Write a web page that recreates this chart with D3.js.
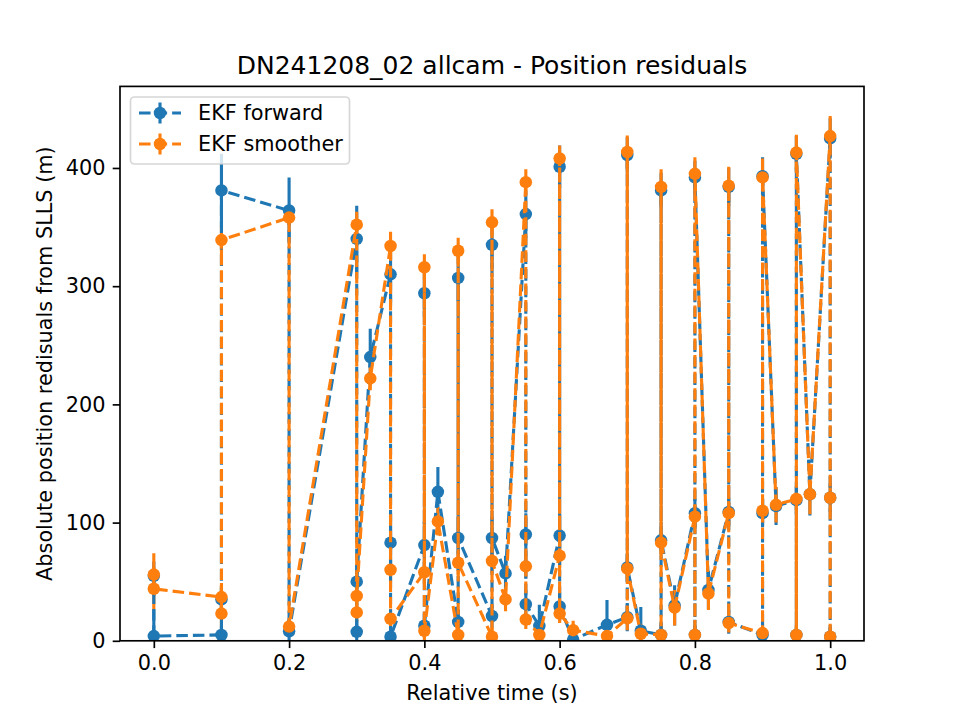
<!DOCTYPE html>
<html>
<head>
<meta charset="utf-8">
<script src="https://cdn.jsdelivr.net/npm/d3@7/dist/d3.min.js"></script>
<style>
  body { margin: 0; background: #fff; }
  text { font-family: "DejaVu Sans", sans-serif; fill: #000; }
</style>
</head>
<body>
<div id="chart"></div>
<script>
// Observation times (relative, s) - same order for both filters
const times = [
    0.0, 0.0, 0.1, 0.1, 0.1, 0.2, 0.2, 0.3, 0.3, 0.3,
    0.32, 0.35, 0.35, 0.35, 0.4, 0.4, 0.4, 0.42, 0.45, 0.45,
    0.45, 0.5, 0.5, 0.5, 0.52, 0.55, 0.55, 0.55, 0.57, 0.6,
    0.6, 0.6, 0.62, 0.67, 0.7, 0.7, 0.7, 0.72, 0.75, 0.75,
    0.75, 0.77, 0.8, 0.8, 0.8, 0.82, 0.85, 0.85, 0.85, 0.9,
    0.9, 0.9, 0.92, 0.95, 0.95, 0.95, 0.97, 1.0, 1.0, 1.0
];
const forwardRes = [
    55, 4, 5, 35, 381, 364, 8, 340, 7.6, 50,
    240, 310, 83, 3.4, 81, 294, 12.7, 126, 16, 307,
    87, 21, 335, 87, 57, 361, 90, 31, 12.5, 89,
    401, 29, 1, 13.5, 20, 411, 62, 8.5, 5, 381,
    85, 30, 108, 5, 392, 43, 109, 384, 16, 5,
    108, 393, 114, 119, 5, 412, 124, 425, 121, 3.5
];
const forwardErr = [
    12, 22, 8, 10, 31, 28, 10, 28, 10, 15,
    24, 24, 25, 10, 20, 20, 10, 21, 10, 20,
    18, 10, 20, 18, 15, 20, 18, 12, 18, 18,
    18, 12, 8, 21, 12, 15, 12, 20, 10, 15,
    12, 17, 12, 8, 14, 16, 12, 16, 10, 8,
    12, 16, 16, 12, 8, 15, 18, 17, 12, 8
];
const smootherRes = [
    56, 44, 37, 23, 339, 358, 12, 352, 24, 38,
    222, 334, 60, 18.6, 58, 316, 8.5, 101, 5, 330,
    66, 3.5, 354, 67.5, 35, 388, 63, 18, 5, 72,
    408, 23, 9, 4, 19, 413.5, 61, 6, 5, 384,
    83, 28, 105, 5, 395, 40, 108, 385, 15, 6.5,
    110, 392, 115, 120, 5, 413, 124, 427, 121, 3.5
];
const smootherErr = [
    18, 18, 12, 12, 12, 6, 6, 11, 8, 8,
    10, 12, 10, 8, 10, 11, 8, 12, 8, 11,
    10, 8, 11, 10, 10, 11, 10, 8, 8, 10,
    11, 8, 8, 6, 10, 14, 10, 8, 8, 15,
    10, 15, 10, 8, 14, 14, 10, 16, 8, 8,
    10, 16, 15, 10, 8, 15, 17, 17, 10, 8
];
const xTicks = [0, 0.2, 0.4, 0.6, 0.8, 1.0];
const yTicks = [0, 100, 200, 300, 400];
const seriesNames = ["EKF forward", "EKF smoother"];
const seriesColors = ["#1f77b4", "#ff7f0e"];

const WIDTH = 960, HEIGHT = 720;
const MARGIN = { left: 120, right: 96, top: 86.4, bottom: 79.2 };
const INNER_W = WIDTH - MARGIN.left - MARGIN.right;
const INNER_H = HEIGHT - MARGIN.top - MARGIN.bottom;
const FONT = 20.83;
const LW = 3.125;
const DASH = "11.56,5";
const MARKER_R = 6.25;
const TICK = 7.3;

const series = [
    { name: seriesNames[0], color: seriesColors[0], vals: forwardRes, errs: forwardErr },
    { name: seriesNames[1], color: seriesColors[1], vals: smootherRes, errs: smootherErr }
].map(s => ({ ...s, points: times.map((t, i) => ({ t, v: s.vals[i], e: s.errs[i] })) }));

const svg = d3.select("#chart").append("svg")
    .attr("width", WIDTH)
    .attr("height", HEIGHT);

svg.append("rect").attr("width", WIDTH).attr("height", HEIGHT).attr("fill", "#fff");

const xScale = d3.scaleLinear().domain([-0.05, 1.05]).range([0, INNER_W]);
const yScale = d3.scaleLinear().domain([0, 469]).range([INNER_H, 0]);

const chart = svg.append("g")
    .attr("transform", `translate(${MARGIN.left}, ${MARGIN.top})`);

chart.append("clipPath").attr("id", "plot-clip")
    .append("rect").attr("width", INNER_W).attr("height", INNER_H);

const plot = chart.append("g").attr("clip-path", "url(#plot-clip)");

// error bars sit under every data line (matplotlib zorder)
series.forEach(s => {
    plot.append("g").selectAll("line")
        .data(s.points)
        .join("line")
        .attr("x1", d => xScale(d.t))
        .attr("x2", d => xScale(d.t))
        .attr("y1", d => yScale(d.v - d.e))
        .attr("y2", d => yScale(d.v + d.e))
        .attr("stroke", s.color)
        .attr("stroke-width", LW);
});

const line = d3.line().x(d => xScale(d.t)).y(d => yScale(d.v));

series.forEach(s => {
    const g = plot.append("g");
    g.append("path")
        .datum(s.points)
        .attr("d", line)
        .attr("fill", "none")
        .attr("stroke", s.color)
        .attr("stroke-width", LW)
        .attr("stroke-dasharray", DASH);
    g.selectAll("circle")
        .data(s.points)
        .join("circle")
        .attr("cx", d => xScale(d.t))
        .attr("cy", d => yScale(d.v))
        .attr("r", MARKER_R)
        .attr("fill", s.color);
});

// axes
const xAxis = chart.append("g")
    .attr("transform", `translate(0, ${INNER_H})`)
    .call(d3.axisBottom(xScale).tickValues(xTicks).tickFormat(d3.format(".1f"))
        .tickSize(TICK).tickPadding(TICK));
const yAxis = chart.append("g")
    .call(d3.axisLeft(yScale).tickValues(yTicks).tickFormat(d3.format("d"))
        .tickSize(TICK).tickPadding(TICK));

[xAxis, yAxis].forEach(a => {
    a.select(".domain").remove();
    a.selectAll(".tick line").attr("stroke", "#000").attr("stroke-width", 1.67);
    a.selectAll(".tick text")
        .style("font-family", "DejaVu Sans, sans-serif")
        .style("font-size", FONT + "px")
        .attr("fill", "#000");
});

chart.append("rect")
    .attr("width", INNER_W)
    .attr("height", INNER_H)
    .attr("fill", "none")
    .attr("stroke", "#000")
    .attr("stroke-width", 1.67);

// labels
svg.append("text")
    .attr("x", MARGIN.left + INNER_W / 2)
    .attr("y", 74)
    .attr("text-anchor", "middle")
    .style("font-size", "25px")
    .text("DN241208_02 allcam - Position residuals");

svg.append("text")
    .attr("x", MARGIN.left + INNER_W / 2)
    .attr("y", 700)
    .attr("text-anchor", "middle")
    .style("font-size", FONT + "px")
    .text("Relative time (s)");

svg.append("text")
    .attr("transform", `translate(52, ${MARGIN.top + INNER_H / 2}) rotate(-90)`)
    .attr("text-anchor", "middle")
    .style("font-size", FONT + "px")
    .text("Absolute position redisuals from SLLS (m)");

// legend
const legend = svg.append("g");
legend.append("rect")
    .attr("x", 130.5).attr("y", 97)
    .attr("width", 219).attr("height", 67)
    .attr("rx", 4)
    .attr("fill", "#fff").attr("fill-opacity", 0.8)
    .attr("stroke", "#ccc").attr("stroke-opacity", 0.8)
    .attr("stroke-width", 1.67);

series.forEach((s, i) => {
    const cy = 113 + i * 31;
    const item = legend.append("g");
    item.append("line")
        .attr("x1", 160).attr("x2", 160)
        .attr("y1", cy - 10.5).attr("y2", cy + 10.5)
        .attr("stroke", s.color).attr("stroke-width", LW);
    item.append("line")
        .attr("x1", 139).attr("x2", 181)
        .attr("y1", cy).attr("y2", cy)
        .attr("stroke", s.color).attr("stroke-width", LW)
        .attr("stroke-dasharray", DASH);
    item.append("circle")
        .attr("cx", 160).attr("cy", cy).attr("r", MARKER_R)
        .attr("fill", s.color);
    item.append("text")
        .attr("x", 198).attr("y", cy)
        .attr("dy", "0.36em")
        .style("font-size", FONT + "px")
        .text(s.name);
});
</script>
</body>
</html>
